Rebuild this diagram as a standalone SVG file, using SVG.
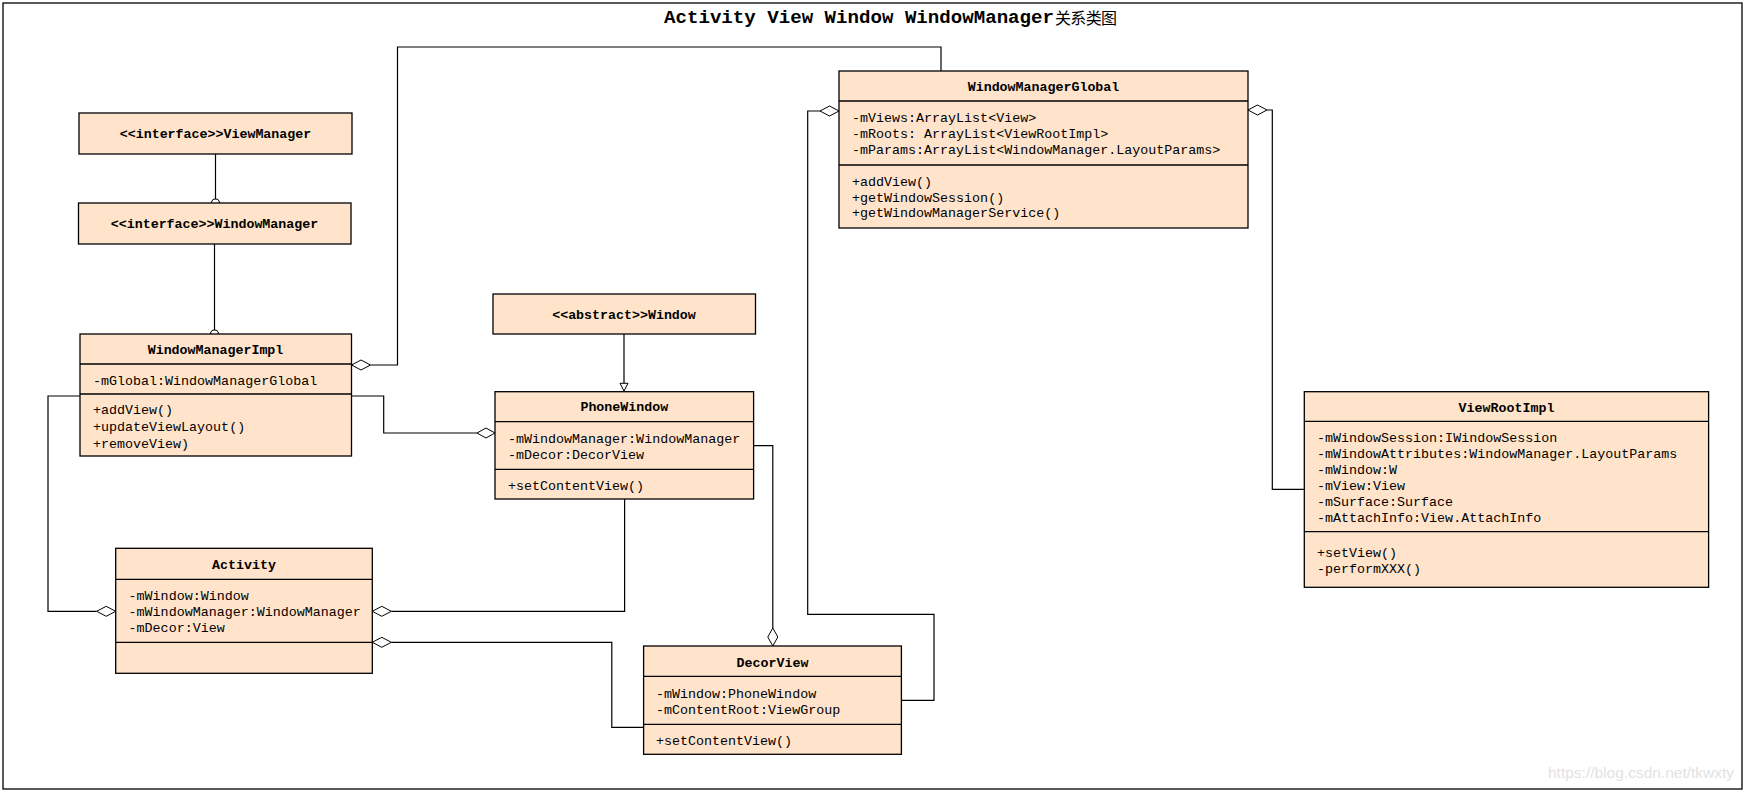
<svg xmlns="http://www.w3.org/2000/svg" width="1745" height="791" viewBox="0 0 1745 791">
<style>
.box{fill:#FFE4CB;stroke:#000;stroke-width:1.3}
.div{stroke:#000;stroke-width:1.3}
.hd{font-family:"Liberation Mono","DejaVu Sans Mono",monospace;font-size:13.3px;font-weight:bold;fill:#000;text-anchor:middle}
.tx{font-family:"Liberation Mono","DejaVu Sans Mono",monospace;font-size:13.35px;fill:#000}
.ln{fill:none;stroke:#000;stroke-width:1.2}
.dm{fill:#fff;stroke:#000;stroke-width:1}
.ci{fill:none;stroke:#000;stroke-width:1.1}
</style>
<rect x="0" y="0" width="1745" height="791" fill="#fff"/>
<rect x="3" y="3" width="1739" height="786" fill="none" stroke="#000" stroke-width="1.3"/>
<text x="664" y="23" font-family="'Liberation Mono',monospace" font-size="19" font-weight="bold" textLength="390" lengthAdjust="spacingAndGlyphs">Activity View Window WindowManager</text>
<text x="1055" y="24" font-family="'Noto Sans CJK SC',sans-serif" font-size="16" textLength="62" lengthAdjust="spacing">关系类图</text>

<g id="connectors">
  <line class="ln" x1="215.5" y1="154" x2="215.5" y2="199"/>
  <circle class="ci" cx="215.5" cy="203" r="4"/>
  <line class="ln" x1="214.5" y1="244" x2="214.5" y2="330"/>
  <circle class="ci" cx="214.5" cy="334" r="4"/>
  <polyline class="ln" points="370.5,365 397.5,365 397.5,47 941,47 941,71"/>
  <polygon class="dm" points="351.5,365 361,360 370.5,365 361,370"/>
  <polyline class="ln" points="80,396 48,396 48,611.3 96.7,611.3"/>
  <polygon class="dm" points="96.7,611.3 106.2,606.3 115.7,611.3 106.2,616.3"/>
  <polyline class="ln" points="351.5,396 383.7,396 383.7,433 477,433"/>
  <polygon class="dm" points="477,433 486,428 495,433 486,438"/>
  <line class="ln" x1="624" y1="334" x2="624" y2="383.3"/>
  <polygon class="dm" points="620,383.3 628,383.3 624,391"/>
  <polyline class="ln" points="624.6,499 624.6,611.3 391.3,611.3"/>
  <polygon class="dm" points="372.3,611.3 381.8,606.3 391.3,611.3 381.8,616.3"/>
  <polyline class="ln" points="753.6,445.7 772.8,445.7 772.8,628"/>
  <polygon class="dm" points="772.8,646 767.8,637 772.8,628 777.8,637"/>
  <polyline class="ln" points="391.3,642.3 611.8,642.3 611.8,727.3 643.6,727.3"/>
  <polygon class="dm" points="372.3,642.3 381.8,637.3 391.3,642.3 381.8,647.3"/>
  <polyline class="ln" points="901.4,700.3 934,700.3 934,614.3 807.7,614.3 807.7,111 820,111"/>
  <polygon class="dm" points="820,111 829.5,106 839,111 829.5,116"/>
  <polyline class="ln" points="1304.3,489.3 1272.3,489.3 1272.3,110 1267,110"/>
  <polygon class="dm" points="1248,110 1257.5,105 1267,110 1257.5,115"/>
</g>

<g id="ViewManager">
  <rect class="box" x="79" y="113" width="273" height="41"/>
  <text class="hd" x="215.5" y="138">&lt;&lt;interface&gt;&gt;ViewManager</text>
</g>
<g id="WindowManager">
  <rect class="box" x="78.5" y="203" width="272.5" height="41"/>
  <text class="hd" x="214.5" y="228">&lt;&lt;interface&gt;&gt;WindowManager</text>
</g>
<g id="WindowManagerImpl">
  <rect class="box" x="80" y="334" width="271.5" height="122"/>
  <line class="div" x1="80" y1="364" x2="351.5" y2="364"/>
  <line class="div" x1="80" y1="394" x2="351.5" y2="394"/>
  <text class="hd" x="215.5" y="354">WindowManagerImpl</text>
  <text class="tx" x="93" y="384.5">-mGlobal:WindowManagerGlobal</text>
  <text class="tx" x="93" y="413.5">+addView()</text>
  <text class="tx" x="93" y="430.5">+updateViewLayout()</text>
  <text class="tx" x="93" y="447.5">+removeView)</text>
</g>
<g id="Window">
  <rect class="box" x="493" y="294" width="262.5" height="40"/>
  <text class="hd" x="624" y="318.5">&lt;&lt;abstract&gt;&gt;Window</text>
</g>
<g id="PhoneWindow">
  <rect class="box" x="495" y="391.7" width="258.6" height="107.3"/>
  <line class="div" x1="495" y1="421.7" x2="753.6" y2="421.7"/>
  <line class="div" x1="495" y1="469.3" x2="753.6" y2="469.3"/>
  <text class="hd" x="624.3" y="411">PhoneWindow</text>
  <text class="tx" x="508" y="443.2">-mWindowManager:WindowManager</text>
  <text class="tx" x="508" y="458.5">-mDecor:DecorView</text>
  <text class="tx" x="508" y="489.5">+setContentView()</text>
</g>
<g id="WindowManagerGlobal">
  <rect class="box" x="839" y="71" width="409" height="157"/>
  <line class="div" x1="839" y1="101" x2="1248" y2="101"/>
  <line class="div" x1="839" y1="165" x2="1248" y2="165"/>
  <text class="hd" x="1043.5" y="91">WindowManagerGlobal</text>
  <text class="tx" x="852" y="122.2">-mViews:ArrayList&lt;View&gt;</text>
  <text class="tx" x="852" y="137.8">-mRoots: ArrayList&lt;ViewRootImpl&gt;</text>
  <text class="tx" x="852" y="153.5">-mParams:ArrayList&lt;WindowManager.LayoutParams&gt;</text>
  <text class="tx" x="852" y="186.2">+addView()</text>
  <text class="tx" x="852" y="201.8">+getWindowSession()</text>
  <text class="tx" x="852" y="217.2">+getWindowManagerService()</text>
</g>
<g id="ViewRootImpl">
  <rect class="box" x="1304.3" y="391.7" width="404.3" height="195.6"/>
  <line class="div" x1="1304.3" y1="421.3" x2="1708.6" y2="421.3"/>
  <line class="div" x1="1304.3" y1="531.7" x2="1708.6" y2="531.7"/>
  <text class="hd" x="1506.5" y="411.8">ViewRootImpl</text>
  <text class="tx" x="1317" y="441.8">-mWindowSession:IWindowSession</text>
  <text class="tx" x="1317" y="457.8">-mWindowAttributes:WindowManager.LayoutParams</text>
  <text class="tx" x="1317" y="473.8">-mWindow:W</text>
  <text class="tx" x="1317" y="489.8">-mView:View</text>
  <text class="tx" x="1317" y="505.8">-mSurface:Surface</text>
  <text class="tx" x="1317" y="521.8">-mAttachInfo:View.AttachInfo</text>
  <text class="tx" x="1317" y="556.8">+setView()</text>
  <text class="tx" x="1317" y="572.8">-performXXX()</text>
</g>
<g id="Activity">
  <rect class="box" x="115.7" y="548.3" width="256.6" height="125"/>
  <line class="div" x1="115.7" y1="579.3" x2="372.3" y2="579.3"/>
  <line class="div" x1="115.7" y1="642.3" x2="372.3" y2="642.3"/>
  <text class="hd" x="244" y="568.5">Activity</text>
  <text class="tx" x="128.6" y="600.2">-mWindow:Window</text>
  <text class="tx" x="128.6" y="615.8">-mWindowManager:WindowManager</text>
  <text class="tx" x="128.6" y="631.5">-mDecor:View</text>
</g>
<g id="DecorView">
  <rect class="box" x="643.6" y="646" width="257.8" height="108.3"/>
  <line class="div" x1="643.6" y1="676.3" x2="901.4" y2="676.3"/>
  <line class="div" x1="643.6" y1="724.3" x2="901.4" y2="724.3"/>
  <text class="hd" x="772.5" y="666.5">DecorView</text>
  <text class="tx" x="656" y="697.8">-mWindow:PhoneWindow</text>
  <text class="tx" x="656" y="713.8">-mContentRoot:ViewGroup</text>
  <text class="tx" x="656" y="744.5">+setContentView()</text>
</g>
<text x="1548" y="778" font-family="'Liberation Sans',Arial,sans-serif" font-size="15.5" fill="#e2e2e2">https://blog.csdn.net/tkwxty</text>
</svg>
